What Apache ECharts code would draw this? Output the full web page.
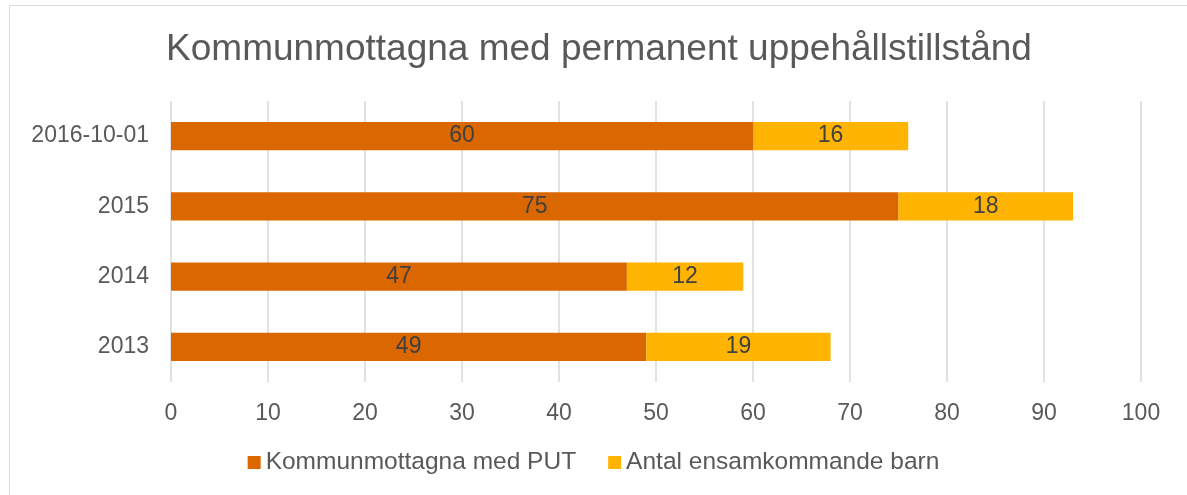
<!DOCTYPE html>
<html>
<head>
<meta charset="utf-8">
<script src="https://cdn.jsdelivr.net/npm/echarts@6/dist/echarts.min.js"></script>
<style>html,body{margin:0;padding:0;background:#fff}#c{width:1187px;height:495px}</style>
</head>
<body>
<div id="c"></div>
<script>
const categories = ['2013', '2014', '2015', '2016-10-01'];
const putValues = [49, 47, 75, 60];
const barnValues = [19, 12, 18, 16];
const seriesNames = ['Kommunmottagna med PUT', 'Antal ensamkommande barn'];
const titleText = 'Kommunmottagna med permanent uppehållstillstånd';

const chart = echarts.init(document.getElementById('c'), null, {renderer: 'canvas'});
const font = 'Liberation Sans, Arial, sans-serif';
const lbl = {show: true, position: 'inside', color: '#404040', fontSize: 23, fontFamily: font};
chart.setOption({
  animation: false,
  graphic: [{type: 'rect', shape: {x: 9.5, y: 5.5, width: 1200, height: 520}, style: {fill: 'none', stroke: '#d9d9d9', lineWidth: 1}, silent: true}],
  title: {text: titleText, left: 594, textAlign: 'center', top: 26, textStyle: {color: '#595959', fontSize: 37, fontWeight: 'normal', fontFamily: font}},
  legend: {bottom: 15, left: 'center', itemWidth: 13, itemHeight: 13, itemGap: 32, icon: 'rect',
    textStyle: {color: '#595959', fontSize: 24.5, fontFamily: font}, data: seriesNames},
  grid: {left: 171, right: 46, top: 101, bottom: 113, containLabel: false},
  xAxis: {type: 'value', min: 0, max: 100, interval: 10,
    axisLine: {show: false}, axisTick: {show: false},
    axisLabel: {color: '#595959', fontSize: 23, fontFamily: font, margin: 20},
    splitLine: {lineStyle: {color: '#d9d9d9', width: 1.5}}},
  yAxis: {type: 'category', data: categories,
    axisLine: {show: false}, axisTick: {show: false},
    axisLabel: {color: '#595959', fontSize: 23, fontFamily: font, margin: 22}},
  series: [
    {name: seriesNames[0], type: 'bar', stack: 'a', data: putValues, barWidth: '40%', itemStyle: {color: '#db6700'}, label: lbl},
    {name: seriesNames[1], type: 'bar', stack: 'a', data: barnValues, barWidth: '40%', itemStyle: {color: '#ffb401'}, label: lbl}
  ]
});
</script>
</body>
</html>
